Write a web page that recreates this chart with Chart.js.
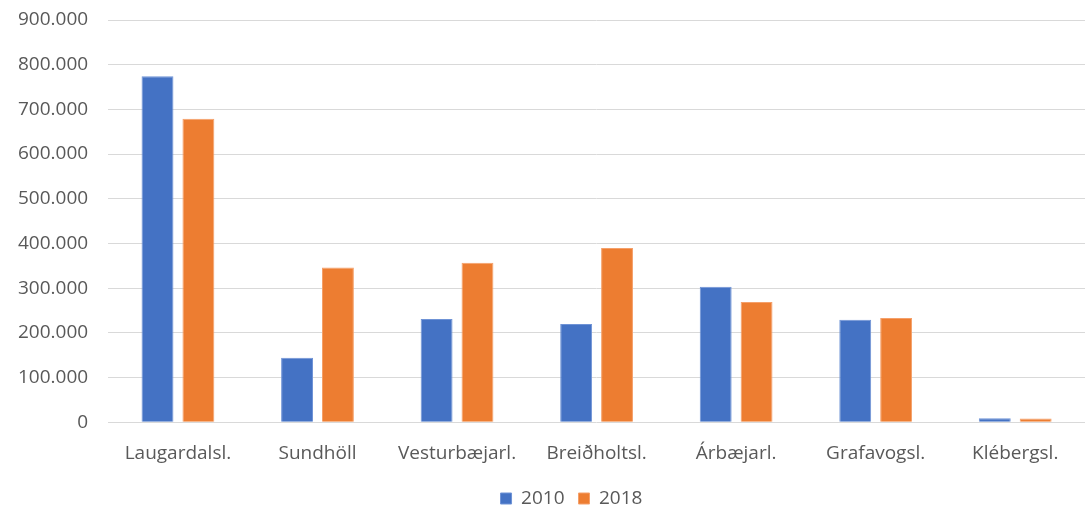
<!DOCTYPE html>
<html>
<head>
<meta charset="utf-8">
<script src="https://cdn.jsdelivr.net/npm/chart.js"></script>
<style>
  html, body { margin: 0; padding: 0; background: #fff; }
  #wrap { width: 1091px; height: 507px; }
</style>
</head>
<body>
<div id="wrap"><canvas id="chart" width="1091" height="507"></canvas></div>
<script>
const categories = ['Laugardalsl.', 'Sundhöll', 'Vesturbæjarl.', 'Breiðholtsl.', 'Árbæjarl.', 'Grafavogsl.', 'Klébergsl.'];
const values2010 = [774000, 144000, 231000, 220000, 303000, 229000, 9000];
const values2018 = [679000, 346000, 357000, 390000, 269000, 233000, 8000];
const yTicks = [0, 100000, 200000, 300000, 400000, 500000, 600000, 700000, 800000, 900000];

const fmt = v => String(v).replace(/\B(?=(\d{3})+(?!\d))/g, '.');
const font = { family: '"Open Sans", sans-serif', size: 19 };

// legend in the original sits a bit right of the canvas centre
const legendShift = {
  id: 'legendShift',
  afterLayout(chart) { chart.legend.left += 60; }
};

const ctx = document.getElementById('chart').getContext('2d');
new Chart(ctx, {
  type: 'bar',
  data: {
    labels: categories,
    datasets: [
      { label: '2010', data: values2010, backgroundColor: '#4472C4', borderColor: '#6f93d6', borderWidth: 1 },
      { label: '2018', data: values2018, backgroundColor: '#ED7D31', borderColor: '#f5a06a', borderWidth: 1 }
    ]
  },
  options: {
    responsive: false,
    animation: false,
    barPercentage: 0.78,
    categoryPercentage: 0.586,
    layout: { padding: { top: 20, right: 6, left: -2, bottom: -11 } },
    plugins: {
      legend: {
        position: 'bottom',
        labels: { boxWidth: 11, boxHeight: 11, padding: 14, color: '#595959', font: font }
      },
      tooltip: { enabled: false }
    },
    scales: {
      x: {
        grid: { display: false, drawTicks: false },
        border: { display: false },
        ticks: { color: '#595959', padding: 20, font: font },
        afterFit: axis => { axis.height -= 10; }
      },
      y: {
        min: 0, max: 900000,
        afterBuildTicks: axis => { axis.ticks = yTicks.map(v => ({ value: v })); },
        afterFit: axis => { axis.paddingTop = 0; axis.paddingBottom = 0; },
        grid: { color: '#d9d9d9', lineWidth: 1, drawTicks: false },
        border: { display: false },
        ticks: { color: '#595959', padding: 20, font: font, callback: v => fmt(v) }
      }
    }
  },
  plugins: [legendShift]
});
</script>
</body>
</html>
